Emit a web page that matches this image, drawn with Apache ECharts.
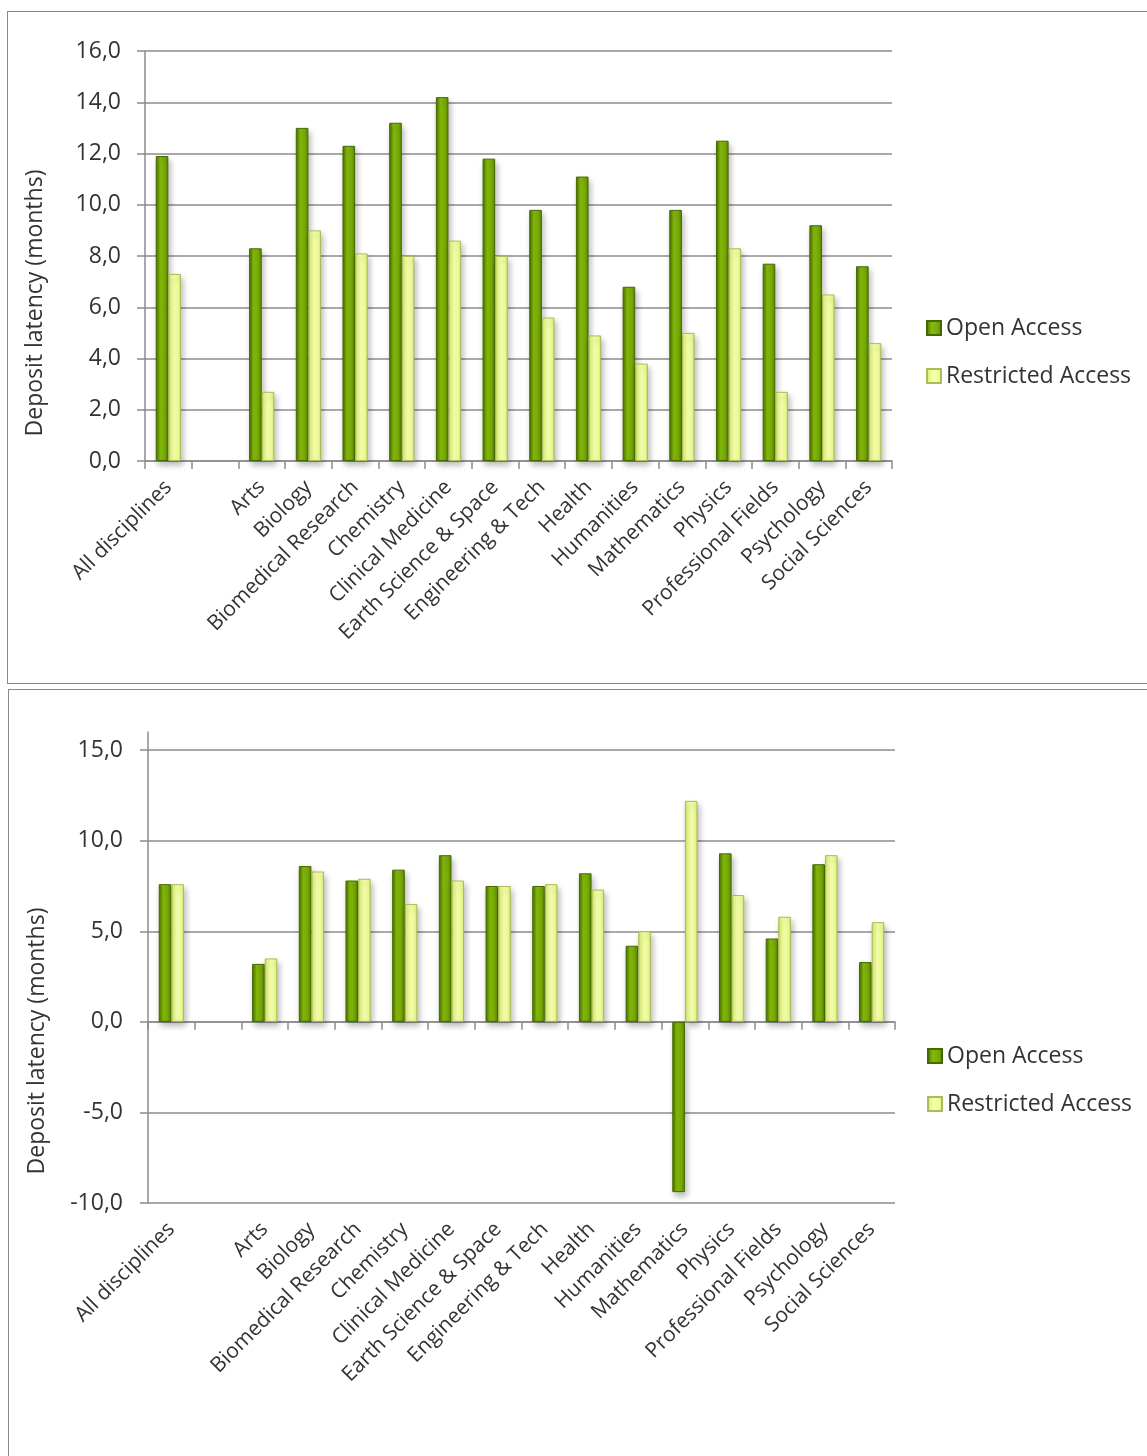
<!DOCTYPE html>
<html>
<head>
<meta charset="utf-8">
<title>Deposit latency by discipline</title>
<script src="https://cdn.jsdelivr.net/npm/echarts@6/dist/echarts.min.js"></script>
<style>
  html, body { margin: 0; padding: 0; background: #ffffff; }
  body { width: 1147px; height: 1456px; position: relative; overflow: hidden; }
  .frame { position: absolute; border: 1.5px solid #8a8a8a; box-sizing: border-box; }
  #frameTop { left: 7px; top: 11px; width: 1150px; height: 673px; }
  #frameBottom { left: 8px; top: 689px; width: 1150px; height: 800px; }
  #chart { position: absolute; left: 0; top: 0; width: 1147px; height: 1456px; }
</style>
</head>
<body>
<div class="frame" id="frameTop"></div>
<div class="frame" id="frameBottom"></div>
<div id="chart"></div>
<script>
// Disciplines along the category axis (second slot is intentionally left empty)
const categories = [
  'All disciplines', '', 'Arts', 'Biology', 'Biomedical Research', 'Chemistry',
  'Clinical Medicine', 'Earth Science & Space', 'Engineering & Tech', 'Health',
  'Humanities', 'Mathematics', 'Physics', 'Professional Fields', 'Psychology',
  'Social Sciences'
];

// Upper panel: deposit latency in months
const openTop       = [11.9, null, 8.3, 13.0, 12.3, 13.2, 14.2, 11.8, 9.8, 11.1, 6.8, 9.8, 12.5, 7.7, 9.2, 7.6];
const restrictedTop = [7.3, null, 2.7, 9.0, 8.1, 8.0, 8.6, 8.0, 5.6, 4.9, 3.8, 5.0, 8.3, 2.7, 6.5, 4.6];

// Lower panel: deposit latency in months
const openBottom       = [7.6, null, 3.2, 8.6, 7.8, 8.4, 9.2, 7.5, 7.5, 8.2, 4.2, -9.4, 9.3, 4.6, 8.7, 3.3];
const restrictedBottom = [7.6, null, 3.5, 8.3, 7.9, 6.5, 7.8, 7.5, 7.6, 7.3, 5.0, 12.2, 7.0, 5.8, 9.2, 5.5];

// Value axis tick values
const topTicks = [0, 2, 4, 6, 8, 10, 12, 14, 16];
const bottomTicks = [-10, -5, 0, 5, 10, 15];

const seriesNames = ['Open Access', 'Restricted Access'];
const axisTitle = 'Deposit latency (months)';

const FONT = '"Open Sans", "DejaVu Sans", sans-serif';
const TEXT = '#333333';
const GRID = '#8c8c8c';

function grad(stops) {
  return new echarts.graphic.LinearGradient(0, 0, 1, 0,
    stops.map(c => ({ offset: c[0], color: c[1] })));
}
const openFill = grad([[0, '#4a7400'], [0.18, '#629300'], [0.35, '#86b90e'], [0.7, '#7aad06'], [1, '#5a8900']]);
const restrictedFill = grad([[0, '#c2d862'], [0.2, '#e4f784'], [0.45, '#f8ffae'], [0.8, '#eefc94'], [1, '#d6ea72']]);

const fmt = v => v.toFixed(1).replace('.', ',');

function barSeries(name, data, fill, border, xIdx, yIdx) {
  return {
    name: name,
    type: 'bar',
    data: data,
    xAxisIndex: xIdx,
    yAxisIndex: yIdx,
    barGap: '0%',
    barCategoryGap: '46%',
    itemStyle: {
      color: fill,
      borderColor: border,
      borderWidth: 1,
      shadowColor: 'rgba(0,0,0,0.28)',
      shadowBlur: 6,
      shadowOffsetX: 2,
      shadowOffsetY: 4
    },
    emphasis: { disabled: true }
  };
}

function categoryAxis(gridIndex, showLabels, showLine) {
  return {
    type: 'category',
    gridIndex: gridIndex,
    data: categories,
    position: 'bottom',
    boundaryGap: true,
    axisLine: { show: showLine, onZero: showLine, lineStyle: { color: GRID, width: 1.5 } },
    axisTick: { show: showLine, interval: 0, length: 8, lineStyle: { color: GRID, width: 1.5 } },
    axisLabel: {
      show: showLabels, interval: 0, rotate: 45, margin: 23,
      fontFamily: FONT, fontSize: 21, color: TEXT
    },
    splitLine: { show: false }
  };
}

const legendText = { fontFamily: FONT, fontSize: 23, color: TEXT, lineHeight: 26 };

const option = {
  backgroundColor: 'transparent',
  animation: false,
  grid: [
    { left: 145, top: 51, width: 747, height: 410, containLabel: false },
    { left: 148, top: 732, width: 747, height: 471, containLabel: false }
  ],
  xAxis: [
    categoryAxis(0, true, true),
    categoryAxis(1, false, true),
    categoryAxis(1, true, false)
  ],
  yAxis: [
    {
      type: 'value', gridIndex: 0, min: 0, max: 16, interval: 2,
      axisLine: { show: true, lineStyle: { color: GRID, width: 1.5 } },
      axisTick: { show: true, length: 8, lineStyle: { color: GRID, width: 1.5 }, customValues: topTicks },
      axisLabel: { margin: 24, fontFamily: FONT, fontSize: 23, color: TEXT, formatter: fmt, customValues: topTicks },
      splitLine: { show: true, lineStyle: { color: GRID, width: 1.5 } }
    },
    {
      type: 'value', gridIndex: 1, min: -10, max: 16, interval: 5,
      axisLine: { show: true, lineStyle: { color: GRID, width: 1.5 } },
      axisTick: { show: true, length: 8, lineStyle: { color: GRID, width: 1.5 }, customValues: bottomTicks },
      axisLabel: { margin: 25, fontFamily: FONT, fontSize: 23, color: TEXT, formatter: fmt, customValues: bottomTicks },
      splitLine: { show: true, lineStyle: { color: GRID, width: 1.5 } }
    }
  ],
  legend: [
    {
      data: seriesNames, orient: 'vertical', left: 921, top: 310, itemGap: 22,
      itemWidth: 14, itemHeight: 14, icon: 'rect', textStyle: legendText,
      selectedMode: false
    },
    {
      data: seriesNames, orient: 'vertical', left: 922, top: 1038, itemGap: 22,
      itemWidth: 14, itemHeight: 14, icon: 'rect', textStyle: legendText,
      selectedMode: false
    }
  ],
  graphic: [
    {
      type: 'text', x: 35, y: 303, rotation: Math.PI / 2,
      style: { text: axisTitle, font: '23px ' + FONT, fill: TEXT, align: 'center', verticalAlign: 'middle' }
    },
    {
      type: 'text', x: 37, y: 1041, rotation: Math.PI / 2,
      style: { text: axisTitle, font: '23px ' + FONT, fill: TEXT, align: 'center', verticalAlign: 'middle' }
    }
  ],
  series: [
    barSeries(seriesNames[0], openTop, openFill, '#456800', 0, 0),
    barSeries(seriesNames[1], restrictedTop, restrictedFill, '#aabb58', 0, 0),
    barSeries(seriesNames[0], openBottom, openFill, '#456800', 1, 1),
    barSeries(seriesNames[1], restrictedBottom, restrictedFill, '#aabb58', 1, 1)
  ]
};

const chart = echarts.init(document.getElementById('chart'), null, { renderer: 'canvas' });
chart.setOption(option);
</script>
</body>
</html>
